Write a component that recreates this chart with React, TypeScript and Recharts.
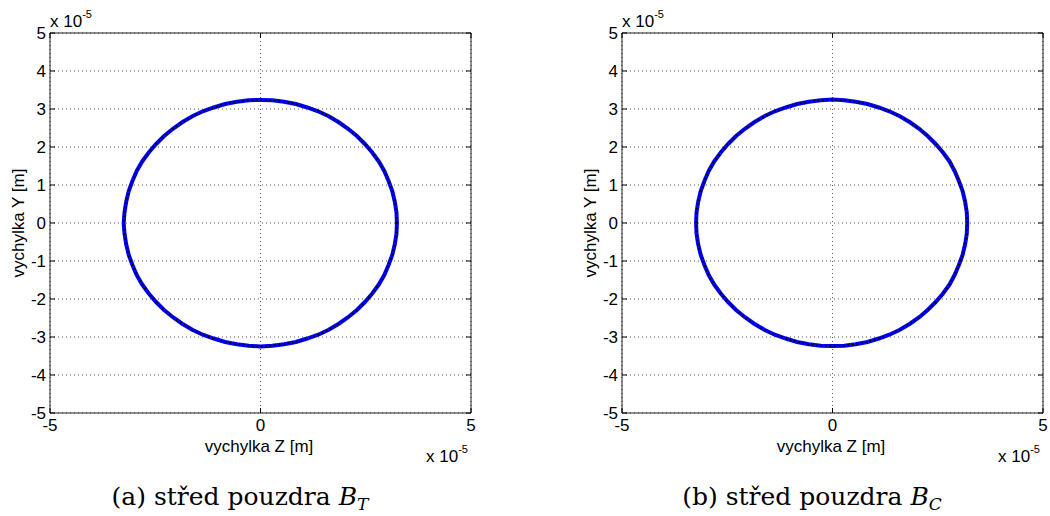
import React from "react";
import {
  CartesianGrid,
  Line,
  LineChart,
  ReferenceArea,
  ReferenceLine,
  XAxis,
  YAxis,
} from "recharts";

// Orbit of the bearing centre, values in units of 1e-5 m.
const Z_TICKS = [-5, 0, 5];
const Y_TICKS = [-5, -4, -3, -2, -1, 0, 1, 2, 3, 4, 5];

const zBT = [
  3.24, 3.23, 3.19, 3.13, 3.04, 2.94, 2.81, 2.65, 2.48, 2.29, 2.08, 1.86, 1.62, 1.37, 1.11, 0.84, 0.56, 0.28, 0.0,
  -0.28, -0.56, -0.84, -1.11, -1.37, -1.62, -1.86, -2.08, -2.29, -2.48, -2.65, -2.81, -2.94, -3.04, -3.13, -3.19, -3.23, -3.25,
  -3.23, -3.19, -3.13, -3.04, -2.94, -2.81, -2.65, -2.48, -2.29, -2.08, -1.86, -1.62, -1.37, -1.11, -0.84, -0.56, -0.28, 0.0,
  0.28, 0.56, 0.84, 1.11, 1.37, 1.62, 1.86, 2.08, 2.29, 2.48, 2.65, 2.81, 2.94, 3.04, 3.13, 3.19, 3.23, 3.24,
];
const yBT = [
  0.0, 0.28, 0.56, 0.84, 1.11, 1.37, 1.62, 1.86, 2.08, 2.29, 2.48, 2.65, 2.81, 2.94, 3.04, 3.13, 3.19, 3.23, 3.24,
  3.23, 3.19, 3.13, 3.04, 2.94, 2.81, 2.65, 2.48, 2.29, 2.08, 1.86, 1.62, 1.37, 1.11, 0.84, 0.56, 0.28, 0.0,
  -0.28, -0.56, -0.84, -1.11, -1.37, -1.62, -1.86, -2.08, -2.29, -2.48, -2.65, -2.81, -2.94, -3.04, -3.13, -3.19, -3.23, -3.25,
  -3.23, -3.19, -3.13, -3.04, -2.94, -2.81, -2.65, -2.48, -2.29, -2.08, -1.86, -1.62, -1.37, -1.11, -0.84, -0.56, -0.28, 0.0,
];

const zBC = [
  3.2, 3.19, 3.15, 3.09, 3.0, 2.9, 2.78, 2.62, 2.45, 2.26, 2.06, 1.84, 1.6, 1.35, 1.1, 0.83, 0.55, 0.28, 0.0,
  -0.28, -0.56, -0.84, -1.11, -1.37, -1.62, -1.86, -2.08, -2.29, -2.48, -2.65, -2.81, -2.94, -3.04, -3.13, -3.19, -3.23, -3.24,
  -3.23, -3.19, -3.13, -3.04, -2.94, -2.81, -2.65, -2.48, -2.29, -2.08, -1.86, -1.62, -1.37, -1.11, -0.84, -0.56, -0.28, 0.0,
  0.28, 0.55, 0.83, 1.1, 1.35, 1.6, 1.84, 2.06, 2.26, 2.45, 2.62, 2.78, 2.9, 3.0, 3.09, 3.15, 3.19, 3.2,
];
const yBC = [
  0.0, 0.28, 0.56, 0.84, 1.11, 1.37, 1.62, 1.86, 2.08, 2.29, 2.48, 2.65, 2.81, 2.94, 3.04, 3.13, 3.19, 3.23, 3.25,
  3.23, 3.19, 3.13, 3.04, 2.94, 2.81, 2.65, 2.48, 2.29, 2.08, 1.86, 1.62, 1.37, 1.11, 0.84, 0.56, 0.28, 0.0,
  -0.28, -0.56, -0.84, -1.11, -1.37, -1.62, -1.86, -2.08, -2.29, -2.48, -2.65, -2.81, -2.94, -3.04, -3.13, -3.19, -3.23, -3.24,
  -3.23, -3.19, -3.13, -3.04, -2.94, -2.81, -2.65, -2.48, -2.29, -2.08, -1.86, -1.62, -1.37, -1.11, -0.84, -0.56, -0.28, 0.0,
];

const SANS = "'Liberation Sans', Arial, sans-serif";
const SERIF = "'DejaVu Serif', 'Liberation Serif', serif";
const TICK = { fontSize: 17, fill: "#000", fontFamily: SANS } as const;

const PLOT_W = 421;
const PLOT_H = 380;

function Orbit({ z, y, left }: { z: number[]; y: number[]; left: number }) {
  const data = z.map((v, i) => ({ z: v, y: y[i] }));
  // inward tick marks, MATLAB style (5 px long)
  const dx = (5 / PLOT_W) * 10;
  const dy = (5 / PLOT_H) * 10;
  return (
    <div style={{ position: "absolute", left, top: 0 }}>
      <LineChart width={50 + PLOT_W + 8} height={516} data={data} margin={{ top: 33, right: 8, bottom: 73, left: 0 }}>
        <CartesianGrid stroke="#555" strokeDasharray="1 3" />
        <XAxis
          dataKey="z"
          type="number"
          domain={[-5, 5]}
          ticks={Z_TICKS}
          axisLine={false}
          tickLine={false}
          tickSize={0}
          tickMargin={6}
          height={30}
          tick={TICK}
          interval={0}
        />
        <YAxis
          type="number"
          domain={[-5, 5]}
          ticks={Y_TICKS}
          axisLine={false}
          tickLine={false}
          tickSize={0}
          tickMargin={4}
          width={50}
          tick={TICK}
          interval={0}
        />
        {Y_TICKS.map((t) => (
          <ReferenceLine key={"l" + t} segment={[{ x: -5, y: t }, { x: -5 + dx, y: t }]} stroke="#000" />
        ))}
        {Y_TICKS.map((t) => (
          <ReferenceLine key={"r" + t} segment={[{ x: 5 - dx, y: t }, { x: 5, y: t }]} stroke="#000" />
        ))}
        {Z_TICKS.map((t) => (
          <ReferenceLine key={"b" + t} segment={[{ x: t, y: -5 }, { x: t, y: -5 + dy }]} stroke="#000" />
        ))}
        {Z_TICKS.map((t) => (
          <ReferenceLine key={"t" + t} segment={[{ x: t, y: 5 - dy }, { x: t, y: 5 }]} stroke="#000" />
        ))}
        <ReferenceArea x1={-5} x2={5} y1={-5} y2={5} fill="none" stroke="#222" strokeWidth={1} />
        <Line
          dataKey="y"
          type="linear"
          stroke="#0000ff"
          strokeWidth={4}
          dot={false}
          isAnimationActive={false}
        />
        <Line
          dataKey="y"
          type="linear"
          stroke="#000"
          strokeWidth={2}
          strokeDasharray="1.5 3"
          dot={false}
          isAnimationActive={false}
        />
      </LineChart>
    </div>
  );
}

function Labels({ dx, letter, sub }: { dx: number; letter: string; sub: string }) {
  return (
    <g transform={`translate(${dx},0)`} fill="#000">
      <text x={50} y={27} fontFamily={SANS} fontSize={17}>
        x 10
        <tspan fontSize={11} dy={-9}>-5</tspan>
      </text>
      <text x={426} y={462} fontFamily={SANS} fontSize={17}>
        x 10
        <tspan fontSize={11} dy={-9}>-5</tspan>
      </text>
      <text x={259} y={452} fontFamily={SANS} fontSize={17} textAnchor="middle">
        vychylka Z [m]
      </text>
      <text x={24} y={223} fontFamily={SANS} fontSize={17} textAnchor="middle" transform={`rotate(-90 24 223)`}>
        vychylka Y [m]
      </text>
      <text x={240} y={505} fontFamily={SERIF} fontSize={25} textAnchor="middle">
        ({letter}) střed pouzdra{" "}
        <tspan fontStyle="italic">B</tspan>
        <tspan fontStyle="italic" fontSize={17} dy={5}>
          {sub}
        </tspan>
      </text>
    </g>
  );
}

export default function App() {
  return (
    <div style={{ position: "absolute", left: 0, top: 0, width: 1050, height: 516, background: "#fff" }}>
      <Orbit z={zBT} y={yBT} left={0} />
      <Orbit z={zBC} y={yBC} left={572} />
      <svg width={1050} height={516} style={{ position: "absolute", left: 0, top: 0, pointerEvents: "none" }}>
        <Labels dx={0} letter="a" sub="T" />
        <Labels dx={572} letter="b" sub="C" />
      </svg>
    </div>
  );
}
